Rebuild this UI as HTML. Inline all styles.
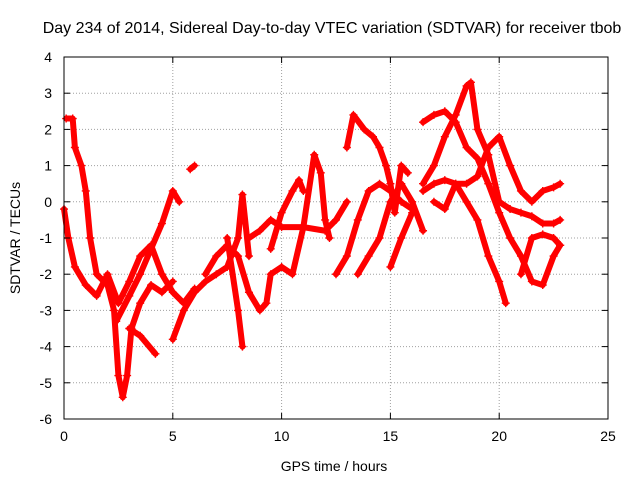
<!DOCTYPE html>
<html><head><meta charset="utf-8"><style>
html,body{margin:0;padding:0;background:#fff}
svg{display:block;font-family:"Liberation Sans",sans-serif}
</style></head><body>
<svg id="chart" width="640" height="480" viewBox="0 0 640 480">
<rect width="640" height="480" fill="#fff"/>
<text x="332" y="33" font-size="16" text-anchor="middle">Day 234 of 2014, Sidereal Day-to-day VTEC variation (SDTVAR) for receiver tbob</text>
<text x="334" y="471" font-size="14" text-anchor="middle">GPS time / hours</text>
<text transform="translate(20,238) rotate(-90)" font-size="14" text-anchor="middle">SDTVAR / TECUs</text>
<g id="grid"></g>
<g id="series"></g>
<rect x="64" y="57" width="544" height="362" fill="none" stroke="#000"/>
<g id="ticks"></g>
</svg>
<script>
const xTicks=[0,5,10,15,20,25];
const yTicks=[4,3,2,1,0,-1,-2,-3,-4,-5,-6];
const tracks=[
[[0.1,2.3],[0.4,2.3],[0.5,1.5],[0.8,1.0],[1.0,0.3],[1.2,-1.0],[1.5,-2.0],[2.0,-2.3],[2.3,-3.0],[2.5,-4.8],[2.7,-5.4],[2.9,-4.8],[3.1,-3.5],[3.5,-2.8],[4.0,-2.3],[4.5,-2.5],[5.0,-2.2]],
[[0,-0.2],[0.2,-1.0],[0.5,-1.8],[1.0,-2.3],[1.5,-2.6],[2,-2.0],[2.5,-2.8],[3,-2.2],[3.5,-1.5],[4,-1.2],[4.5,-2.0],[5,-2.5],[5.5,-2.8],[6,-2.4]],
[[2.4,-3.3],[3,-2.6],[3.5,-2.0],[4,-1.3],[4.5,-0.6],[5.0,0.3],[5.3,0.0]],
[[5.8,0.9],[6.0,1.0]],
[[3,-3.5],[3.5,-3.7],[4.2,-4.2]],
[[5,-3.8],[5.5,-3.0],[6,-2.5],[6.5,-2.2],[7,-2.0],[7.5,-1.8],[8,-1.0],[8.2,0.2],[8.5,-1.5]],
[[6.5,-2.0],[7,-1.5],[7.5,-1.2],[8,-1.5],[8.5,-2.5],[9,-3.0],[9.3,-2.8],[9.5,-2.0],[10,-1.8],[10.5,-2.0],[11,-0.7],[11.5,1.3],[11.8,0.8],[12,-0.5],[12.2,-1.0]],
[[7.5,-1.0],[8,-3.0],[8.2,-4.0]],
[[8.5,-1.0],[9,-0.8],[9.5,-0.5],[10,-0.7],[11,-0.7],[12,-0.8],[12.5,-0.5],[13,0.0]],
[[9.5,-1.3],[10,-0.3],[10.5,0.3],[10.8,0.6],[11,0.3]],
[[12.5,-2.0],[13,-1.5],[13.5,-0.5],[14,0.3],[14.5,0.5],[15,0.3],[15.5,0.0],[16,-0.2]],
[[13,1.5],[13.3,2.4],[13.8,2.0],[14.2,1.8],[14.5,1.5],[14.8,1.0],[15,0.5],[15.2,-0.3],[15.5,1.0],[15.8,0.8]],
[[13.5,-2.0],[14,-1.5],[14.5,-1.0],[15,0.0],[15.5,0.5],[16,0.0],[16.5,-0.8]],
[[15,-1.8],[15.5,-1.0],[16,-0.3]],
[[16.5,0.5],[17,1.0],[17.5,1.8],[18,2.4],[18.5,3.2],[18.7,3.3],[19,2.0],[19.5,1.3],[20,0.0],[20.5,-0.2],[21,-0.3],[21.5,-0.4],[22,-0.6],[22.5,-0.6],[22.8,-0.5]],
[[16.5,2.2],[17,2.4],[17.5,2.5],[18,2.2],[18.5,1.5],[19,1.2],[19.5,0.5],[20,-0.3],[20.5,-1.0],[21,-1.5],[21.5,-2.2],[22,-2.3],[22.5,-1.5],[22.8,-1.2]],
[[16.5,0.3],[17,0.5],[17.5,0.6],[18,0.5],[18.5,0.5],[19,0.7],[19.5,1.5],[20,1.8],[20.5,1.0],[21,0.3],[21.5,0.0],[22,0.3],[22.5,0.4],[22.8,0.5]],
[[17,0.0],[17.5,-0.2],[18,0.5],[18.5,0.0],[19,-0.5],[19.5,-1.5],[20,-2.2],[20.3,-2.8]],
[[21,-2.0],[21.5,-1.0],[22,-0.9],[22.5,-1.0],[22.8,-1.2]]
];
const NS='http://www.w3.org/2000/svg';
const X0=64,X1=608,Y0=419,Y1=57;
function sx(t){return X0+(t-0)/(25-0)*(X1-X0);}
function sy(v){return Y0-(v+6)/(4+6)*(Y0-Y1);}
const grid=document.getElementById('grid'),ticks=document.getElementById('ticks'),ser=document.getElementById('series');
function mk(tag,attrs,parent){const e=document.createElementNS(NS,tag);for(const k in attrs)e.setAttribute(k,attrs[k]);parent.appendChild(e);return e;}
xTicks.forEach(t=>{
  const x=sx(t);
  if(t>0&&t<25){const g=mk('line',{x1:x,x2:x,y1:Y0,y2:Y1,stroke:'#a0a0a0','stroke-dasharray':'1,2'},grid);
  
  }
  const a=mk('line',{x1:x,x2:x,y1:Y0,y2:Y0-6,stroke:'#000'},ticks);
  
  
  const b=mk('line',{x1:x,x2:x,y1:Y1,y2:Y1+6,stroke:'#000'},ticks);
  
  
  const l=mk('text',{x:x,y:Y0+22,'font-size':14,'text-anchor':'middle'},ticks);l.textContent=t;
  
  
});
yTicks.forEach(v=>{
  const y=sy(v);
  if(v>-6&&v<4){const g=mk('line',{x1:X0,x2:X1,y1:y,y2:y,stroke:'#a0a0a0','stroke-dasharray':'1,2'},grid);
  
  }
  const a=mk('line',{x1:X0,x2:X0+6,y1:y,y2:y,stroke:'#000'},ticks);
  
  
  const b=mk('line',{x1:X1,x2:X1-6,y1:y,y2:y,stroke:'#000'},ticks);
  
  
  const l=mk('text',{x:X0-12,y:y+5,'font-size':14,'text-anchor':'end'},ticks);l.textContent=v;
  
  
});
tracks.forEach((tr,i)=>{
  const pts=tr.map(p=>sx(p[0])+','+sy(p[1])).join(' ');
  const pl=mk('polyline',{points:pts,fill:'none',stroke:'#ff0000','stroke-width':6,'stroke-linejoin':'round','stroke-linecap':'round'},ser);
  
  
  tr.forEach(p=>{
    const x=sx(p[0]),y=sy(p[1]);
    const m=mk('path',{d:`M${x-4},${y}H${x+4}M${x},${y-4}V${y+4}`,stroke:'#ff0000','stroke-width':1.4},ser);
    
    
  });
});
</script>
</body></html>
